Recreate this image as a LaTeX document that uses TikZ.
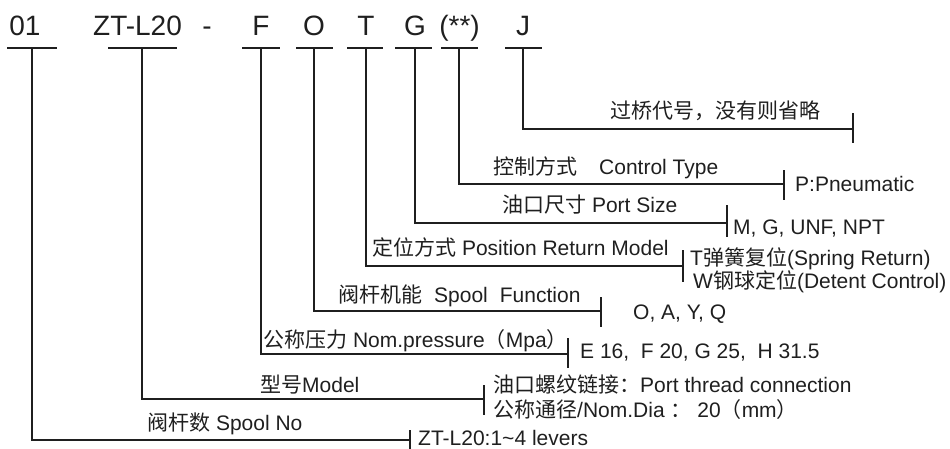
\documentclass[tikz,border=0pt]{standalone}
\usepackage{fontspec}
\setmainfont{Liberation Sans}
\newfontfamily\cjk{Noto Sans CJK SC}
\newcommand{\zh}[1]{{\cjk #1}}

\begin{document}
\begin{tikzpicture}[x=1pt,y=-1pt,
	codenode/.style={inner sep=0pt, anchor=base, text=black!88, font=\fontsize{28}{30}\selectfont},
	labelnode/.style={inner sep=0pt, anchor=base west, text=black!88, font=\fontsize{21}{24}\selectfont},
	wire/.style={draw=black!88, line width=1.4pt}
]
\useasboundingbox (0,0) rectangle (950,448);

% Code
\node[codenode] (c01) at (25,35) {01};
\node[codenode] (cZT) at (137.5,35) {ZT-L20};
\node[codenode] (cdash) at (207,35) {-};
\node[codenode] (cF) at (261,35) {F};
\node[codenode] (cO) at (314,35) {O};
\node[codenode] (cT) at (366,35) {T};
\node[codenode] (cG) at (415,35) {G};
\node[codenode] (cX) at (459.5,35) {(**)};
\node[codenode] (cJ) at (523,35) {J};

% Balken
\coordinate (b01) at (32,48);
\coordinate (bZT) at (142,48);
\coordinate (bF) at (261,48);
\coordinate (bO) at (314,48);
\coordinate (bT) at (366,48);
\coordinate (bG) at (415,48);
\coordinate (bX) at (459,48);
\coordinate (bJ) at (523,48);

\draw[wire] ([xshift=-25pt]b01) -- ([xshift=25pt]b01);
\draw[wire] ([xshift=-34pt]bZT) -- ([xshift=35pt]bZT);
\draw[wire] ([xshift=-19pt]bF) -- ([xshift=19pt]bF);
\draw[wire] ([xshift=-18pt]bO) -- ([xshift=19pt]bO);
\draw[wire] ([xshift=-19pt]bT) -- ([xshift=17pt]bT);
\draw[wire] ([xshift=-20pt]bG) -- ([xshift=17pt]bG);
\draw[wire] ([xshift=-18pt]bX) -- ([xshift=19pt]bX);
\draw[wire] ([xshift=-18pt]bJ) -- ([xshift=19pt]bJ);

% Endpunkte
\coordinate (tJ) at (853,129);
\coordinate (tX) at (784,184);
\coordinate (tG) at (727,223);
\coordinate (tT) at (683,266);
\coordinate (tO) at (601,311);
\coordinate (tF) at (568,354);
\coordinate (tZT) at (484,399);
\coordinate (t01) at (410,440);

\draw[wire] (bJ) |- (tJ);
\draw[wire] (bX) |- (tX);
\draw[wire] (bG) |- (tG);
\draw[wire] (bT) |- (tT);
\draw[wire] (bO) |- (tO);
\draw[wire] (bF) |- (tF);
\draw[wire] (bZT) |- (tZT);
\draw[wire] (b01) |- (t01);

\draw[wire] ([yshift=16pt]tJ) -- ([yshift=-14pt]tJ);
\draw[wire] ([yshift=14pt]tX) -- ([yshift=-16pt]tX);
\draw[wire] ([yshift=18pt]tG) -- ([yshift=-14pt]tG);
\draw[wire] ([yshift=16pt]tT) -- ([yshift=-16pt]tT);
\draw[wire] ([yshift=14pt]tO) -- ([yshift=-16pt]tO);
\draw[wire] ([yshift=16pt]tF) -- ([yshift=-14pt]tF);
\draw[wire] ([yshift=14pt]tZT) -- ([yshift=-16pt]tZT);
\draw[wire] ([yshift=10pt]t01) -- ([yshift=-10pt]t01);

% Beschriftung
\node[labelnode] (lJ) at (610,118.5) {\zh{过桥代号，没有则省略}};
\node[labelnode] (lX) at (493,174.5) {\zh{控制方式}\hspace{22pt}Control Type};
\node[labelnode] (vX) at (795,191.5) {P:Pneumatic};
\node[labelnode] (lG) at (502,212.5) {\zh{油口尺寸} Port Size};
\node[labelnode] (vG) at (733,234.5) {M, G, UNF, NPT};
\node[labelnode] (lT) at (372,255.5) {\zh{定位方式} Position Return Model};
\node[labelnode] (vT1) at (690,265.5) {T\zh{弹簧复位}(Spring Return)};
\node[labelnode] (vT2) at (693,288.5) {W\zh{钢球定位}(Detent Control)};
\node[labelnode] (lO) at (338,302.5) {\zh{阀杆机能}\hspace{12pt}Spool\hspace{12pt}Function};
\node[labelnode] (vO) at (633,319.5) {O, A, Y, Q};
\node[labelnode] (lF) at (263,347.5) {\zh{公称压力} Nom.pressure\zh{（}Mpa\zh{）}};
\node[labelnode] (vF) at (580,358.5) {E 16,\ \ F 20, G 25,\ \ H 31.5};
\node[labelnode] (lZT) at (260,392.5) {\zh{型号}Model};
\node[labelnode] (vZT1) at (493,392.5) {\zh{油口螺纹链接：}Port thread connection};
\node[labelnode] (vZT2) at (493,417.5) {\zh{公称通径}/Nom.Dia \zh{：} 20\zh{（}mm\zh{）}};
\node[labelnode] (l01) at (147,430.5) {\zh{阀杆数} Spool No};
\node[labelnode] (v01) at (418,445) {ZT-L20:1\textasciitilde 4 levers};

\end{tikzpicture}
\end{document}
